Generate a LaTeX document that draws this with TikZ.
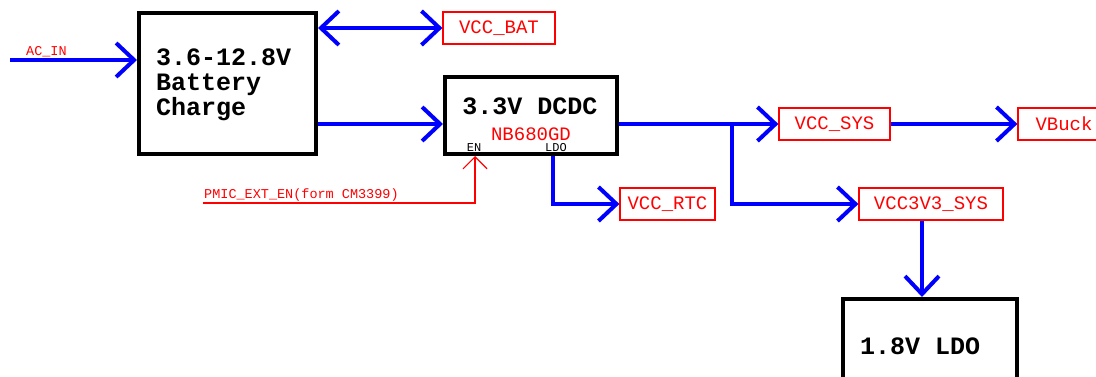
\documentclass[tikz,border=0pt]{standalone}
\usepackage{fontspec}
\setmonofont{Liberation Mono}
\usetikzlibrary{arrows.meta, positioning}

\tikzset{
  blockbox/.style={draw=black, line width=4pt, inner sep=0pt},
  blocktext/.style={font=\ttfamily\bfseries\fontsize{25}{25}\selectfont, inner sep=0pt},
  netbox/.style={draw=red, line width=1.2pt, inner sep=0pt, text=red, minimum height=32pt, font=\ttfamily\fontsize{19}{19}\selectfont},
  pinlabel/.style={font=\ttfamily\fontsize{12}{12}\selectfont, inner sep=0pt},
  redlabel/.style={text=red, font=\ttfamily\fontsize{13.5}{13.5}\selectfont, inner sep=1pt},
  power/.style={draw=blue, line width=4pt, -{Straight Barb[length=18pt, width=34pt]}},
  signal/.style={draw=red, line width=1.2pt, -{Straight Barb[length=12pt, width=24pt]}},
}

\begin{document}
\begin{tikzpicture}[x=1pt, y=-1pt]
\useasboundingbox (0,0) rectangle (1096,377);

%% blocks
\node[blockbox, minimum width=177pt, minimum height=141pt] (chg) at (227.5,83.5) {};
\node[blocktext, align=left, anchor=north west] (chgtext) at (156,49) {3.6-12.8V\\Battery\\Charge};

\node[blockbox, minimum width=172pt, minimum height=77pt] (dcdc) at (531,115.5) {};
\node[blocktext] (dcdcname) at (530,106) {3.3V DCDC};
\node[text=red, font=\ttfamily\fontsize{19}{19}\selectfont, inner sep=0pt] (dcdcpart) at (531,134) {NB680GD};
\node[pinlabel] (enpin) at (474,148) {EN};
\node[pinlabel] (ldopin) at (556,148) {LDO};

\node[blockbox, minimum width=174pt, minimum height=121pt] (ldo) at (930,359.5) {};
\node[blocktext, anchor=west] (ldotext) at (860,346) {1.8V LDO};

%% nets
\node[netbox, minimum width=112pt] (vbat) at (499,28) {VCC\_BAT};
\node[netbox, minimum width=111pt] (vsys) at (834.5,124) {VCC\_SYS};
\node[netbox, minimum width=92pt] (vbuck) at (1064,124) {VBuck};
\node[netbox, minimum width=95pt] (vrtc) at (667.5,204) {VCC\_RTC};
\node[netbox, minimum width=144pt] (v3v3) at (931,204) {VCC3V3\_SYS};

\coordinate (acin) at (10,60);
\coordinate (bus) at (732,124);
\coordinate (ldotap) at (553,0);
\coordinate (entap) at (475,0);
\coordinate (ldoin) at (922,0);
\coordinate (ext) at (203,203);

%% power paths
\draw[power] (acin) -- (chg.west |- acin);
\node[redlabel, anchor=south west] (aclabel) at (25,58) {AC\_IN};
\draw[power, {Straight Barb[length=18pt, width=34pt]}-{Straight Barb[length=18pt, width=34pt]}] (chg.east |- vbat) -- (vbat.west);
\draw[power] (chg.east |- bus) -- (dcdc.west |- bus);
\draw[power] (dcdc.east |- bus) -- (vsys.west);
\draw[power] (vsys.east) -- (vbuck.west);
\draw[power] (bus) |- (v3v3.west);
\draw[power] (dcdc.south -| ldotap) |- (vrtc.west);
\draw[power] (v3v3.south -| ldoin) -- (ldo.north -| ldoin);

%% enable
\draw[signal] (ext) -| (dcdc.south -| entap);
\node[redlabel, anchor=south west] (extlabel) at (ext) {PMIC\_EXT\_EN(form CM3399)};
\end{tikzpicture}
\end{document}
